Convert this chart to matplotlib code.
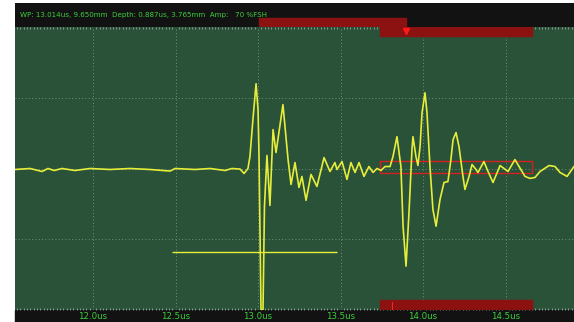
import numpy as np
import matplotlib
matplotlib.use("Agg")
import matplotlib.pyplot as plt
from matplotlib.patches import Rectangle
from matplotlib.ticker import MultipleLocator

# A-scan trace: time (us) and amplitude (%FSH)
t_us = [11.527, 11.618, 11.691, 11.727, 11.764, 11.812, 11.891, 11.982, 12.103,
        12.224, 12.345, 12.467, 12.497, 12.618, 12.709, 12.800, 12.842, 12.891,
        12.915, 12.939, 12.951, 12.969, 12.988, 13.000, 13.006, 13.018, 13.030,
        13.039, 13.054, 13.072, 13.091, 13.109, 13.151, 13.182, 13.200, 13.224,
        13.248, 13.266, 13.291, 13.321, 13.357, 13.400, 13.436, 13.466, 13.478,
        13.509, 13.539, 13.563, 13.588, 13.612, 13.642, 13.672, 13.697, 13.721,
        13.745, 13.770, 13.800, 13.818, 13.842, 13.866, 13.879, 13.897, 13.915,
        13.933, 13.939, 13.957, 13.969, 13.982, 13.994, 14.012, 14.024, 14.042,
        14.060, 14.079, 14.103, 14.127, 14.151, 14.169, 14.182, 14.200, 14.218,
        14.242, 14.254, 14.279, 14.297, 14.321, 14.333, 14.369, 14.394, 14.424,
        14.467, 14.491, 14.515, 14.557, 14.582, 14.618, 14.648, 14.679, 14.709,
        14.764, 14.800, 14.830, 14.873, 14.915]
amp = [-0.7, 0.0, -2.1, 0.0, -1.4, 0.0, -1.4, 0.0, -0.7,
       0.0, -0.7, -1.8, 0.0, -0.7, 0.0, -1.4, 0.0, -0.4,
       -3.5, 0.0, 8.5, 34.5, 59.9, 41.5, 8.5, -100, -100,
       -26.8, 9.2, -26.1, 27.5, 11.3, 45.1, 6.3, -11.3, 4.2,
       -13.4, -5.6, -22.5, -4.2, -12.7, 7.7, -2.1, 4.2, -0.7,
       4.9, -7.7, 4.2, -2.8, 4.2, -5.6, 1.4, -2.8, 0.0,
       -1.4, 1.4, 1.4, 8.5, 22.5, 1.4, -40.8, -69.0, -31.0,
       13.4, 22.5, 8.5, 2.1, 15.5, 39.4, 53.5, 39.4, 1.4,
       -28.9, -40.8, -21.8, -9.9, -9.2, 6.3, 20.4, 25.4, 15.5,
       -5.6, -14.8, -5.6, 2.8, -0.7, -2.8, 4.9, -2.1, -9.9,
       2.1, 0.0, -2.1, 6.3, 1.4, -5.6, -7.0, -6.3, -2.1,
       2.1, 1.4, -2.8, -5.6, 1.4]

# gates / cursors
gate_a = [12.479, 13.479]      # yellow gate start, end
gate_a_level = -59
gate_b = [13.739, 14.661]      # red gate start, end
gate_b_level = [-3.5, 5.6]     # box bottom, top
cursor_t = 13.897              # red marker
wp_t = 13.006                  # start of header bar
bottom_mark_t = 13.812

xticks = [12.0, 12.5, 13.0, 13.5, 14.0, 14.5]
xlabels = ["12.0us", "12.5us", "13.0us", "13.5us", "14.0us", "14.5us"]
header_text = "WP: 13.014us, 9.650mm  Depth: 0.887us, 3.765mm  Amp:   70 %FSH"

W, H = 574, 322
bg_green = "#2a5239"
dark = "#121212"
red = "#8c1212"
txt_green = "#3ccf3c"
yellow = "#e6ee3a"

fig = plt.figure(figsize=(W / 100, H / 100), dpi=100, facecolor="white")

def fr(x0, y0, x1, y1):
    # pixel box (top-left origin) -> figure fraction [l, b, w, h]
    return [x0 / W, 1 - y1 / H, (x1 - x0) / W, (y1 - y0) / H]

# dark strip below plot for tick labels (drawn under the axes)
fig.patches.append(Rectangle((15 / W, 0), 1 - 15 / W, 12 / H,
                             transform=fig.transFigure, color=dark, zorder=-5))

ax = fig.add_axes(fr(15, 27, 574, 310))
ax.set_zorder(2)
ax.set_facecolor(bg_green)
xmin, xmax = 11.527, 14.915
ax.set_xlim(xmin, xmax)
ax.set_ylim(-100, 100)

for xt in xticks:
    ax.axvline(xt, color="#8fa396", lw=0.6, ls=(0, (1, 3)), zorder=1)
for yt in [-50, 0, 50]:
    ax.axhline(yt, color="#8fa396", lw=0.6, ls=(0, (1, 3)), zorder=1)

# red gate bars and box
ax.add_patch(Rectangle((gate_b[0], 93.5), gate_b[1] - gate_b[0], 6.5, color=red, zorder=2))
ax.add_patch(Rectangle((gate_b[0], -100), gate_b[1] - gate_b[0], 7.2, color=red, zorder=2))
ax.add_patch(Rectangle((gate_b[0], gate_b_level[0]), gate_b[1] - gate_b[0],
                       gate_b_level[1] - gate_b_level[0], fill=False,
                       edgecolor="#d42020", lw=1.0, zorder=4))
ax.plot([bottom_mark_t, bottom_mark_t], [-100, -94], color="#ff2020", lw=0.8, zorder=3)
ax.plot([cursor_t], [97.5], marker="v", color="#ff1a1a", markersize=5, zorder=5, clip_on=False)

# yellow gate line
ax.hlines(gate_a_level, gate_a[0], gate_a[1], color=yellow, lw=1.0, zorder=3)

# waveform
ax.plot(t_us, amp, color=yellow, lw=1.2, zorder=4, solid_joinstyle="round")

ax.set_xticks(xticks)
ax.set_xticklabels(xlabels, color=txt_green, fontsize=6.2)
ax.set_yticks([])
ax.xaxis.set_minor_locator(MultipleLocator(0.02))
ax.tick_params(axis="x", which="major", length=0, pad=1.2)
ax.tick_params(axis="x", which="minor", direction="in", length=1.5, color="#9aa89e",
               top=True, bottom=True, width=0.6)
for s in ax.spines.values():
    s.set_visible(False)

# header bar
hx = fig.add_axes(fr(15, 3, 574, 27))
hx.set_facecolor(dark)
hx.set_xlim(xmin, xmax)
hx.set_ylim(27, 3)
hx.add_patch(Rectangle((wp_t, 18), cursor_t - wp_t, 9, color=red))
hx.text(11.555, 14.5, header_text, color=txt_green, fontsize=5.1, va="center", ha="left")
hx.set_xticks([])
hx.set_yticks([])
for s in hx.spines.values():
    s.set_visible(False)

plt.savefig("out.png", dpi=100, facecolor="white")
print("Wrote out.png")
